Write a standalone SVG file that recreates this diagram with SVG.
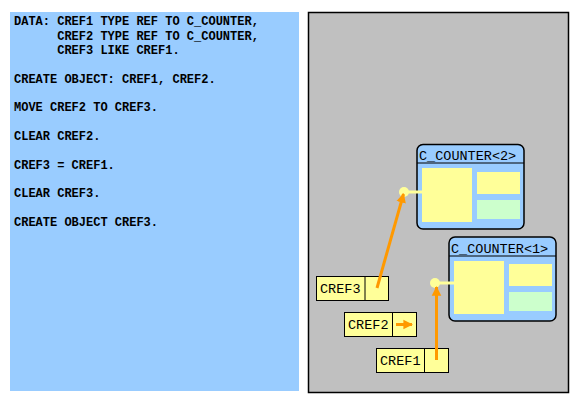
<svg xmlns="http://www.w3.org/2000/svg" width="575" height="402" viewBox="0 0 575 402">
<defs>
<style>
.code{font-family:"Liberation Mono","Courier New",monospace;font-size:12px;font-weight:bold;fill:#000}
.lbl{font-family:"Liberation Mono","Courier New",monospace;font-size:13.5px;fill:#000}
.obj{fill:#99CCFF;stroke:#000;stroke-width:1.5}
.yel{fill:#FFFF99}
.grn{fill:#CCFFCC}
.ref{fill:#FFFF99;stroke:#000;stroke-width:1}
.arr{stroke:#FF9900;stroke-width:3;fill:none}
.dot{fill:#FFFF99}
.link{stroke:#FFFF99;stroke-width:3}
</style>
<marker id="ah" viewBox="0 0 10 10" refX="9" refY="5" markerWidth="3.2" markerHeight="3.4" orient="auto" markerUnits="strokeWidth">
<path d="M0,0 L10,5 L0,10 z" fill="#FF9900"/>
</marker>
</defs>
<rect x="10" y="12" width="289" height="379" fill="#99CCFF"/>
<g id="code">
<text class="code" xml:space="preserve" x="14" y="25">DATA: CREF1 TYPE REF TO C_COUNTER,</text>
<text class="code" xml:space="preserve" x="14" y="39.5">      CREF2 TYPE REF TO C_COUNTER,</text>
<text class="code" xml:space="preserve" x="14" y="54">      CREF3 LIKE CREF1.</text>
<text class="code" x="14" y="82.5">CREATE OBJECT: CREF1, CREF2.</text>
<text class="code" x="14" y="111">MOVE CREF2 TO CREF3.</text>
<text class="code" x="14" y="140">CLEAR CREF2.</text>
<text class="code" x="14" y="168.5">CREF3 = CREF1.</text>
<text class="code" x="14" y="197">CLEAR CREF3.</text>
<text class="code" x="14" y="226">CREATE OBJECT CREF3.</text>
</g>
<rect x="308.5" y="12.5" width="260" height="380" fill="#C0C0C0" stroke="#000" stroke-width="1.5"/>
<g id="obj2">
<rect class="obj" x="417" y="144.5" width="107" height="84.5" rx="6"/>
<line x1="417" y1="163" x2="524" y2="163" stroke="#000" stroke-width="1"/>
<text class="lbl" x="419" y="160">C_COUNTER&lt;2&gt;</text>
<rect class="yel" x="422" y="168" width="50" height="54"/>
<rect class="yel" x="477" y="172" width="43" height="22"/>
<rect class="grn" x="477" y="200" width="43" height="19"/>
<line class="link" x1="404" y1="192" x2="422" y2="192"/>
<circle class="dot" cx="404" cy="192" r="5"/>
</g>
<g id="obj1">
<rect class="obj" x="449" y="237" width="107" height="84" rx="6"/>
<line x1="449" y1="256" x2="556" y2="256" stroke="#000" stroke-width="1"/>
<text class="lbl" x="451" y="252.5">C_COUNTER&lt;1&gt;</text>
<rect class="yel" x="454" y="261" width="50" height="53"/>
<rect class="yel" x="509" y="264" width="43" height="22"/>
<rect class="grn" x="509" y="292" width="43" height="19"/>
<line class="link" x1="435" y1="283" x2="454" y2="283"/>
<circle class="dot" cx="435" cy="283" r="5"/>
</g>
<g id="cref3">
<rect class="ref" x="316.5" y="276.5" width="72" height="24"/>
<line x1="365" y1="276.5" x2="365" y2="300.5" stroke="#000"/>
<text class="lbl" x="320" y="293">CREF3</text>
</g>
<g id="cref2">
<rect class="ref" x="344.5" y="312.5" width="72" height="24"/>
<line x1="392.5" y1="312.5" x2="392.5" y2="336.5" stroke="#000"/>
<text class="lbl" x="348" y="329">CREF2</text>
</g>
<g id="cref1">
<rect class="ref" x="376.5" y="348.5" width="72" height="24"/>
<line x1="424.5" y1="348.5" x2="424.5" y2="372.5" stroke="#000"/>
<text class="lbl" x="380" y="365">CREF1</text>
</g>
<g id="connectors">
<line class="arr" x1="377" y1="288" x2="403.5" y2="194" marker-end="url(#ah)"/>
<line class="arr" x1="436.5" y1="360" x2="436.5" y2="287" marker-end="url(#ah)"/>
<line class="arr" x1="396" y1="324.5" x2="412" y2="324.5" marker-end="url(#ah)"/>
</g>
</svg>
